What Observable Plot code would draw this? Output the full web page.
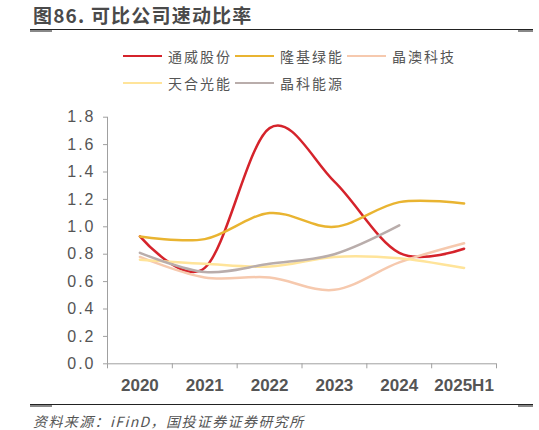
<!DOCTYPE html>
<html>
<head>
<meta charset="utf-8">
<script src="https://cdn.jsdelivr.net/npm/d3@7"></script>
<script src="https://cdn.jsdelivr.net/npm/@observablehq/plot@0.6"></script>
<style>
  body { margin: 0; background: #fff; }
  #wrap { position: relative; width: 539px; height: 430px; font-family: "Noto Sans CJK SC", sans-serif; overflow: hidden; }
  #title { position: absolute; left: 33px; top: 4px; font-size: 19px; line-height: 22px; font-weight: bold; color: #4a4a4a; letter-spacing: 1.2px; white-space: nowrap; }
  .rule { position: absolute; left: 30px; width: 503px; height: 0; border-top: 1.5px solid #222; }
  .rule::before, .rule::after { content: ""; position: absolute; top: 0; width: 22px; height: 2px; background: #888; }
  .rule::before { left: 0; }
  .rule::after { right: 0; width: 15px; }
  .item { position: absolute; height: 20px; display: flex; align-items: center; white-space: nowrap; }
  .item .sw { width: 39px; height: 2.5px; margin-right: 6px; }
  .item span { font-size: 14px; letter-spacing: 2px; color: #555; }
  #chart { position: absolute; left: 0; top: 100px; }
  #chart g[aria-label="y-axis tick label"] text { letter-spacing: 2px; }
  #source { position: absolute; left: 33px; top: 411px; font-size: 14px; line-height: 20px; font-style: italic; color: #555; letter-spacing: 1.4px; white-space: nowrap; }
</style>
</head>
<body>
<div id="wrap">
  <div id="title">图86. 可比公司速动比率</div>
  <div class="rule" style="top:29px"></div>
  <div id="legend"></div>
  <div id="chart"></div>
  <div class="rule" style="top:404px"></div>
  <div id="source">资料来源：iFinD，国投证券证券研究所</div>
</div>
<script>
const years = ["2020", "2021", "2022", "2023", "2024", "2025H1"];
const names = ["通威股份", "隆基绿能", "晶澳科技", "天合光能", "晶科能源"];
const colors = ["#d5232b", "#e9b431", "#f6c9ae", "#ffe49a", "#b9adab"];

const tongwei = [0.93, 0.70, 1.72, 1.33, 0.81, 0.84];
const longji  = [0.93, 0.91, 1.10, 1.00, 1.18, 1.17];
const jingao  = [0.78, 0.63, 0.63, 0.54, 0.74, 0.88];
const tianhe  = [0.76, 0.73, 0.71, 0.78, 0.77, 0.70];
const jingke  = [0.81, 0.67, 0.73, 0.80, 1.01];

const yTicks = [0, 0.2, 0.4, 0.6, 0.8, 1.0, 1.2, 1.4, 1.6, 1.8];

const seriesValues = [tongwei, longji, jingao, tianhe, jingke];
const rows = [];
seriesValues.forEach((vals, s) => {
  vals.forEach((v, i) => rows.push({name: names[s], year: years[i], idx: i + 0.5, value: v}));
});

// legend
const legend = document.getElementById("legend");
names.forEach((n, i) => {
  const col = i < 3 ? i : i - 3;
  const row = i < 3 ? 0 : 1;
  const el = document.createElement("div");
  el.className = "item";
  el.style.left = (123 + col * 112) + "px";
  el.style.top = (46 + row * 27) + "px";
  el.innerHTML = `<div class="sw" style="background:${colors[i]}"></div><span>${n}</span>`;
  legend.appendChild(el);
});

const chart = Plot.plot({
  width: 539,
  height: 300,
  marginLeft: 107,
  marginRight: 43,
  marginTop: 16.7,
  marginBottom: 36.7,
  style: {background: "transparent", overflow: "visible"},
  x: {domain: [0, years.length], axis: null},
  y: {domain: [0, 1.8], axis: null},
  color: {domain: names, range: colors},
  marks: [
    Plot.ruleX([0], {y1: 0, y2: 1.8, stroke: "#a0a0a0", strokeWidth: 1}),
    Plot.ruleY([0], {x1: 0, x2: years.length, stroke: "#a0a0a0", strokeWidth: 1}),
    Plot.axisY({ticks: yTicks, tickSize: 4, tickPadding: 8, stroke: "#a0a0a0", label: null,
      tickFormat: d3.format(".1f"), fontSize: 16, fill: "#555", fontFamily: "Liberation Sans"}),
    Plot.axisX({ticks: d3.range(years.length + 1), tickSize: 5, tickFormat: () => "", stroke: "#a0a0a0", label: null}),
    Plot.axisX({ticks: years.map((y, i) => i + 0.5), tickSize: 0, tickPadding: 15, label: null,
      tickFormat: d => years[Math.floor(d)], fontSize: 17, fontWeight: "bold", fill: "#555", fontFamily: "Liberation Sans"}),
    Plot.line(rows, {x: "idx", y: "value", z: "name", stroke: "name", strokeWidth: 2.5, curve: "cardinal"})
  ]
});
document.getElementById("chart").appendChild(chart);
</script>
</body>
</html>
